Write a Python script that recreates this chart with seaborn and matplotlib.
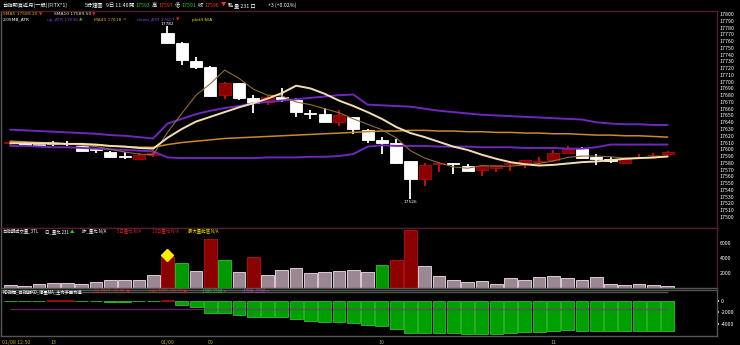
import matplotlib
matplotlib.use("Agg")
import matplotlib.pyplot as plt
import matplotlib.transforms as mtrans
import numpy as np
import pandas as pd
import seaborn as sns

# ---------------- data ----------------
opens = [17609, 17610, 17608, 17609, 17609, 17605, 17600, 17596, 17590, 17586, 17591,
         17772, 17757, 17730, 17722, 17680, 17698, 17676, 17670, 17678, 17673, 17653,
         17652, 17640, 17648, 17628, 17614, 17609, 17582, 17556, 17578, 17580, 17575,
         17569, 17573, 17578, 17578, 17581, 17584, 17594, 17601, 17588, 17585, 17580,
         17588, 17591, 17593]
highs = [17612, 17611, 17611, 17613, 17613, 17605, 17602, 17598, 17596, 17595, 17599,
         17782, 17759, 17737, 17723, 17700, 17698, 17680, 17680, 17690, 17676, 17658,
         17661, 17658, 17648, 17630, 17618, 17615, 17582, 17580, 17581, 17580, 17578,
         17577, 17577, 17581, 17584, 17588, 17599, 17605, 17604, 17593, 17589, 17586,
         17593, 17594, 17597]
lows = [17607, 17606, 17604, 17605, 17605, 17597, 17594, 17587, 17585, 17585, 17589,
        17755, 17725, 17718, 17678, 17675, 17673, 17653, 17665, 17670, 17648, 17645,
        17640, 17635, 17622, 17610, 17593, 17578, 17526, 17546, 17566, 17564, 17568,
        17560, 17566, 17568, 17572, 17576, 17581, 17593, 17585, 17577, 17580, 17579,
        17587, 17589, 17591]
closes = [17610, 17607, 17607, 17608, 17608, 17598, 17599, 17589, 17588, 17591, 17595,
          17757, 17732, 17722, 17679, 17698, 17676, 17669, 17678, 17674, 17655, 17652,
          17640, 17650, 17630, 17614, 17609, 17580, 17556, 17577, 17580, 17578, 17568,
          17575, 17577, 17579, 17584, 17582, 17594, 17601, 17587, 17585, 17582, 17585,
          17589, 17592, 17596]

sma5 = [17610, 17609, 17608, 17608, 17608, 17606, 17604, 17600, 17596, 17593, 17592,
        17625, 17653, 17680, 17697, 17717, 17705, 17689, 17680, 17679, 17670, 17666,
        17660, 17654, 17645, 17637, 17629, 17617, 17598, 17587, 17580, 17574, 17572,
        17576, 17575, 17575, 17577, 17579, 17583, 17588, 17590, 17590, 17589, 17587,
        17587, 17587, 17589]
sma10 = [17609, 17609, 17609, 17609, 17608, 17608, 17607, 17605, 17604, 17602, 17601,
         17617, 17630, 17641, 17648, 17655, 17662, 17668, 17675, 17683, 17694, 17690,
         17682, 17672, 17664, 17655, 17645, 17633, 17624, 17618, 17611, 17604, 17599,
         17592, 17586, 17581, 17578, 17576, 17577, 17579, 17581, 17582, 17584, 17586,
         17587, 17588, 17589.5]
ma40 = [17612, 17611, 17610, 17609, 17608, 17607, 17606, 17605, 17604, 17603, 17603,
        17607, 17610, 17612, 17614, 17616, 17617, 17618, 17619, 17620, 17621, 17622,
        17623, 17624, 17625, 17626, 17627, 17627, 17628, 17628, 17627, 17627, 17626,
        17626, 17625, 17625, 17624, 17624, 17623, 17623, 17622, 17621, 17621, 17620,
        17620, 17619, 17618]
up_atr = [17629, 17628, 17627, 17626, 17625, 17624, 17623, 17621, 17620, 17618, 17616,
          17638, 17645, 17652, 17657, 17661, 17664, 17668, 17670, 17672, 17674, 17676,
          17678, 17680, 17681, 17666, 17665, 17664, 17663, 17660, 17657, 17655, 17653,
          17651, 17650, 17649, 17648, 17647, 17646, 17645, 17644, 17640, 17638, 17637,
          17637, 17636, 17636]
down_atr = [17605, 17605, 17604, 17603, 17603, 17602, 17601, 17600, 17599, 17598, 17597,
            17588, 17587, 17587, 17587, 17587, 17587, 17587, 17588, 17588, 17588, 17589,
            17589, 17590, 17593, 17604, 17606, 17605, 17605, 17605, 17604, 17604, 17604,
            17603, 17603, 17603, 17602, 17602, 17602, 17601, 17601, 17603, 17607, 17607,
            17607, 17607, 17607]

volumes = [410, 230, 450, 590, 590, 545, 820, 1090, 1090, 1090, 1725, 4130, 3400, 2315,
           6630, 3680, 2090, 4130, 1770, 2400, 2680, 1950, 2180, 2315, 2400, 2090, 3090,
           3680, 7760, 2950, 1630, 1090, 770, 950, 545, 1270, 1000, 1410, 1540, 1320,
           1090, 1410, 545, 360, 545, 360, 231]
vol_kind = (['n'] * 11 + ['r', 'g', 'n', 'r', 'g', 'n', 'r'] + ['n'] * 8
            + ['g', 'r', 'r'] + ['n'] * 18)
vol_signal_bar = 11
vol_signal_value = 4400

force = [-80, -80, -80, 80, 80, -80, -80, -200, -200, -80, -80, 80,
         -684, -1026, -2050, -2050, -2394, -2793, -2793, -2793, -3192, -3420, -3590,
         -3650, -3876, -4100, -4330, -4845, -5530, -5530, -5530, -5560, -5700, -5650,
         -5700, -5530, -5415, -5360, -5130, -5070, -5190, -5190, -5190, -5190, -5190,
         -5190, -5190]
force_bands = [1500, -1500]

price_ticks = list(range(17500, 17801, 10))
vol_ticks = [2000, 4000, 6000]
force_ticks = [0, -2000, -4000]
x_tick_pos = [0, 3, 11, 14, 26, 38]
x_tick_labels = ['01/08 12:50', '13', '01/09', '09', '10', '11']

# ---------------- style ----------------
sns.set_theme(style="dark", rc={"axes.facecolor": "black", "figure.facecolor": "black"})
plt.rcParams["font.family"] = ["Noto Sans CJK TC", "DejaVu Sans"]
plt.rcParams["axes.unicode_minus"] = False

W, H = 740, 345
fig = plt.figure(figsize=(W / 100, H / 100), dpi=100, facecolor="black")
renderer = fig.canvas.get_renderer()


def axes_px(x0, y0, x1, y1):
    a = fig.add_axes([x0 / W, 1 - y1 / H, (x1 - x0) / W, (y1 - y0) / H])
    a.set_facecolor("black")
    a.grid(False)
    return a


def seq(x, y, parts, size=3.4, gap=1.2, family=None):
    """Draw text pieces one after another starting at pixel x."""
    cx = x
    for s, col in parts:
        kw = {} if family is None else {"family": family}
        t = fig.text(cx / W, 1 - y / H, s, color=col, fontsize=size,
                     va="center", ha="left", **kw)
        bb = t.get_window_extent(renderer=renderer)
        cx += bb.width + gap
    return cx


ax_p = axes_px(1, 11, 717, 228)
ax_v = axes_px(1, 228, 717, 287.6)
ax_f = axes_px(1, 289.5, 717, 336)

n = len(closes)
idx = np.arange(n)
XL = (-0.65, 49.45)

o = np.array(opens, float)
c = np.array(closes, float)
hi = np.array(highs, float)
lo = np.array(lows, float)
up = c >= o
body_bot = np.minimum(o, c)
body_h = np.maximum(np.abs(c - o), 1.2)
face = np.where(up, "#8b0000", "#ffffff")
edge = np.where(up, "#b40808", "#ffffff")
wick = np.where(up, "#d41010", "#ffffff")

ax_p.vlines(idx, lo, hi, colors=wick, lw=1.3, zorder=2)
ax_p.bar(idx, body_h, bottom=body_bot, width=0.85, color=face, edgecolor=edge,
         linewidth=0.6, zorder=3)

lines = pd.DataFrame({"i": idx, "sma5": sma5, "sma10": sma10, "ma40": ma40,
                      "up": up_atr, "dn": down_atr})
sns.lineplot(data=lines, x="i", y="ma40", ax=ax_p, color="#c98a2a", lw=1.1, zorder=4)
sns.lineplot(data=lines, x="i", y="up", ax=ax_p, color="#7226c0", lw=1.4, zorder=4)
sns.lineplot(data=lines, x="i", y="dn", ax=ax_p, color="#7226c0", lw=1.4, zorder=4)
sns.lineplot(data=lines, x="i", y="sma5", ax=ax_p, color="#8e6d36", lw=0.8, zorder=5)
sns.lineplot(data=lines, x="i", y="sma10", ax=ax_p, color="#f3deb0", lw=1.4, zorder=5)

imax = int(np.argmax(hi))
imin = int(np.argmin(lo))
ax_p.text(imax, hi[imax] + 0.3, f"{int(hi[imax])}", color="white", fontsize=3.1,
          ha="center", va="bottom", family="DejaVu Sans")
ax_p.text(imin, lo[imin] - 1.5, f"{int(lo[imin])}", color="white", fontsize=3.1,
          ha="center", va="top", family="DejaVu Sans")

ax_p.set_xlim(*XL)
ax_p.set_ylim(17483.7, 17804.4)
ax_p.yaxis.tick_right()
ax_p.set_yticks(price_ticks)
ax_p.set_yticklabels([str(t) for t in price_ticks])
ax_p.set_xticks([])
ax_p.tick_params(axis="y", colors="white", labelsize=3.8, length=0, pad=1.8)
ax_p.set_xlabel("")
ax_p.set_ylabel("")

# volume
vcol = {"n": "#9a8792", "r": "#8b0000", "g": "#009a00"}
vedge = {"n": "#dccbd6", "r": "#a81010", "g": "#28b428"}
ax_v.bar(idx, volumes, width=0.89, color=[vcol[k] for k in vol_kind],
         edgecolor=[vedge[k] for k in vol_kind], linewidth=0.7, zorder=2)
ax_v.plot([vol_signal_bar], [vol_signal_value], marker="D", ms=6.5, color="#ffee00",
          mec="#ffee00", zorder=4, ls="none")
ax_v.set_xlim(*XL)
ax_v.set_ylim(0, 8080)
ax_v.yaxis.tick_right()
ax_v.set_yticks(vol_ticks)
ax_v.set_yticklabels([str(t) for t in vol_ticks])
ax_v.set_xticks([])
ax_v.tick_params(axis="y", colors="white", labelsize=3.8, length=0, pad=1.8)

# force panel
f = np.array(force, float)
fcol = np.where(f >= 0, "#8b0000", "#00a000")
fedge = np.where(f >= 0, "#a01010", "#30c030")
ax_f.bar(idx, f, width=0.9, color=fcol, edgecolor=fedge, linewidth=0.6, zorder=2)
ax_f.hlines(force_bands[0], XL[0], n - 1, colors="#4a5a4a", lw=1.0, zorder=1)
ax_f.hlines(force_bands[1], 0, n - 1, colors="#8a2a8a", lw=1.0, alpha=0.7, zorder=3)
ax_f.set_xlim(*XL)
ax_f.set_ylim(-6060, 1923)
ax_f.yaxis.tick_right()
ax_f.set_yticks(force_ticks)
ax_f.set_yticklabels([str(t) for t in force_ticks])
ax_f.tick_params(axis="y", colors="white", labelsize=3.8, length=1.5, pad=1.5)
ax_f.set_xticks(x_tick_pos)
ax_f.set_xticklabels(x_tick_labels)
ax_f.tick_params(axis="x", colors="#c8b000", labelsize=3.8, length=2, width=0.6, pad=1)
first = ax_f.get_xticklabels()[0]
first.set_ha("left")
first.set_transform(first.get_transform()
                    + mtrans.ScaledTranslation(-8 / 100, 0, fig.dpi_scale_trans))

for a in (ax_p, ax_v, ax_f):
    for s in a.spines.values():
        s.set_visible(True)
        s.set_color("#4e1f30")
        s.set_linewidth(1)
    a.spines["left"].set_color("#5a5a5a")
ax_v.spines["bottom"].set_color("#555555")
ax_f.spines["top"].set_color("#555555")
ax_f.spines["bottom"].set_color("#555555")
ax_f.spines["right"].set_color("#555555")

# ---------------- header & legends ----------------
W_, G_, R_ = "white", "#20d020", "#ff3030"
hy = 5.5
seq(2, hy, [("台指期貨近月(一般)(FITX*1)", W_)], size=3.8)
seq(85, hy, [("5分鐘圖", W_)], size=3.8)
seq(106, hy, [("9日 11:40", W_)], size=3.8)
seq(129, hy, [("開", W_), ("17593", G_)], size=3.8)
seq(152, hy, [("高", W_), ("17597", R_)], size=3.8)
seq(175, hy, [("低", W_), ("17591", G_)], size=3.8)
seq(198, hy, [("收", W_), ("17596", R_)], size=3.8)
seq(221, hy, [("▼", R_), ("點", W_)], size=3.8)
seq(234, hy, [("量 231 口", W_)], size=3.8)
seq(268, hy, [("+3 (+0.02%)", W_)], size=3.8)

DJ = "DejaVu Sans"
seq(3, 14.0, [("SMA5 17589.20", "#e8a020"), ("▼", "#ff2020")], size=3.2, family=DJ)
seq(54, 14.0, [("SMA10 17589.50", "#f0e0c0"), ("▼", "#ff2020")], size=3.2, family=DJ)
seq(3, 19.6, [("2.05MB_ATR", W_)], size=3.2, family=DJ)
seq(47, 19.6, [("up_ATR 17636", "#8a3ad8"), ("▲", G_)], size=3.2, family=DJ)
seq(94, 19.6, [("MA40 17618", "#e0a030"), ("=", "#e0a030")], size=3.2, family=DJ)
seq(137, 19.6, [("down_ATR 17607", "#8a3ad8"), ("▼", "#ff2020")], size=3.2, family=DJ)
seq(192, 19.6, [("plot4 N/A", "#e8e000")], size=3.2, family=DJ)

vy = 231.7
seq(3, vy, [("台指期成交量_3TL", W_)], size=3.2)
seq(45, vy, [("日_量比 231", W_), ("▲", G_)], size=3.2)
seq(82, vy, [("昨_量比 N/A", W_)], size=3.2)
seq(117, vy, [("5日量比 N/A", "#e02020")], size=3.2)
seq(152, vy, [("10日量比 N/A", "#e02020")], size=3.2)
seq(188, vy, [("最大量能值 N/A", "#e8e000")], size=3.2)

fy = 291.6
seq(3, fy, [("KD指標_台指期KD_淨量MA_主力多空力道", W_)], size=3.1)
seq(93, fy, [("-53.7977  -55.55", "#e02020"), ("▼", "#e02020")], size=3.1)
seq(148, fy, [("-146.7977  -55.55", "#e02020"), ("▼", "#e02020")], size=3.1)
seq(202, fy, [("1500 1500 =", G_)], size=3.1)
seq(242, fy, [("-1500 -1500 =", "#c040c0")], size=3.1)

fig.savefig("out.png", dpi=100, facecolor="black")
